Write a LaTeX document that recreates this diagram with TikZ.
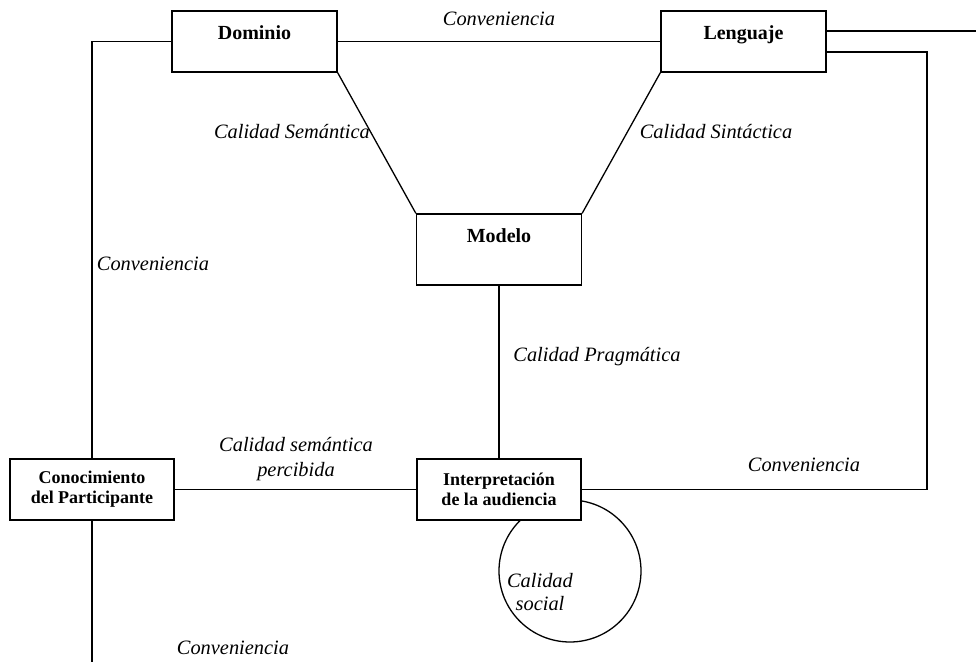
\documentclass[tikz,border=0pt]{standalone}
\usepackage{fontspec}
\setmainfont{Liberation Serif}
\usetikzlibrary{calc}
\begin{document}
\begin{tikzpicture}[x=0.5pt,y=-0.5pt,
  line width=0.65pt,
  box/.style={draw,rectangle,minimum width=82.5pt,minimum height=30.5pt,inner sep=0pt},
  bigbox/.style={draw,rectangle,minimum width=82.5pt,minimum height=35.5pt,inner sep=0pt},
  boxtext/.style={font=\fontsize{10}{12}\selectfont\bfseries,inner sep=0pt,anchor=base},
  smallbox/.style={draw,fill=white,rectangle,minimum width=82pt,minimum height=30.5pt,inner sep=0pt,align=center,font=\fontsize{9}{10}\selectfont\bfseries},
  lbl/.style={font=\fontsize{10.2}{11.7}\selectfont\itshape,inner sep=0pt,align=center}]
\useasboundingbox (0,0) rectangle (976,662);
% circle first (box covers its top)
\node[draw,circle,minimum size=71pt,inner sep=0pt] (soc) at (570,571) {};
% boxes
\node[box] (dom) at (254.5,41.5) {};
\node[boxtext] (domt) at (254.5,39.5) {Dominio};
\node[box] (len) at (743.5,41.5) {};
\node[boxtext] (lent) at (743.5,39.5) {Lenguaje};
\node[bigbox] (mod) at (499,249.5) {};
\node[boxtext] (modt) at (499,243) {Modelo};
\node[smallbox] (con) at (92,489.5) {Conocimiento\\del Participante};
\node[smallbox] (int) at (499,489.5) {Interpretación\\de la audiencia};
% free ends
\coordinate (rend) at (976,31);
\coordinate (bend) at (92,662);
\coordinate (rc) at (927,52);
% connectors
\draw (dom.west) -| (con.north);
\draw (dom.east) -- (len.west);
\draw ([yshift=5.25pt]len.east) -- (rend);
\draw ([yshift=-5.25pt]len.east) -- (rc) |- (int.east);
\draw (dom.south east) -- (mod.north west);
\draw (len.south west) -- (mod.north east);
\draw (mod.south) -- (int.north);
\draw (con.east) -- (int.west);
\draw (con.south) -- (bend);
% labels
\node[lbl] (l1) at (499,19) {Conveniencia};
\node[lbl] (l2) at (292,132) {Calidad Semántica};
\node[lbl] (l3) at (716,132) {Calidad Sintáctica};
\node[lbl] (l4) at (153,264) {Conveniencia};
\node[lbl] (l5) at (597,357) {Calidad Pragmática};
\node[lbl,font=\fontsize{10.2}{12.5}\selectfont\itshape] (l6) at (296,459) {Calidad semántica\\percibida};
\node[lbl] (l7) at (804,465) {Conveniencia};
\node[lbl] (l8) at (233,648) {Conveniencia};
\node[lbl,font=\fontsize{10.2}{11.5}\selectfont\itshape] (l9) at (540,592) {Calidad\\social};
\end{tikzpicture}
\end{document}
